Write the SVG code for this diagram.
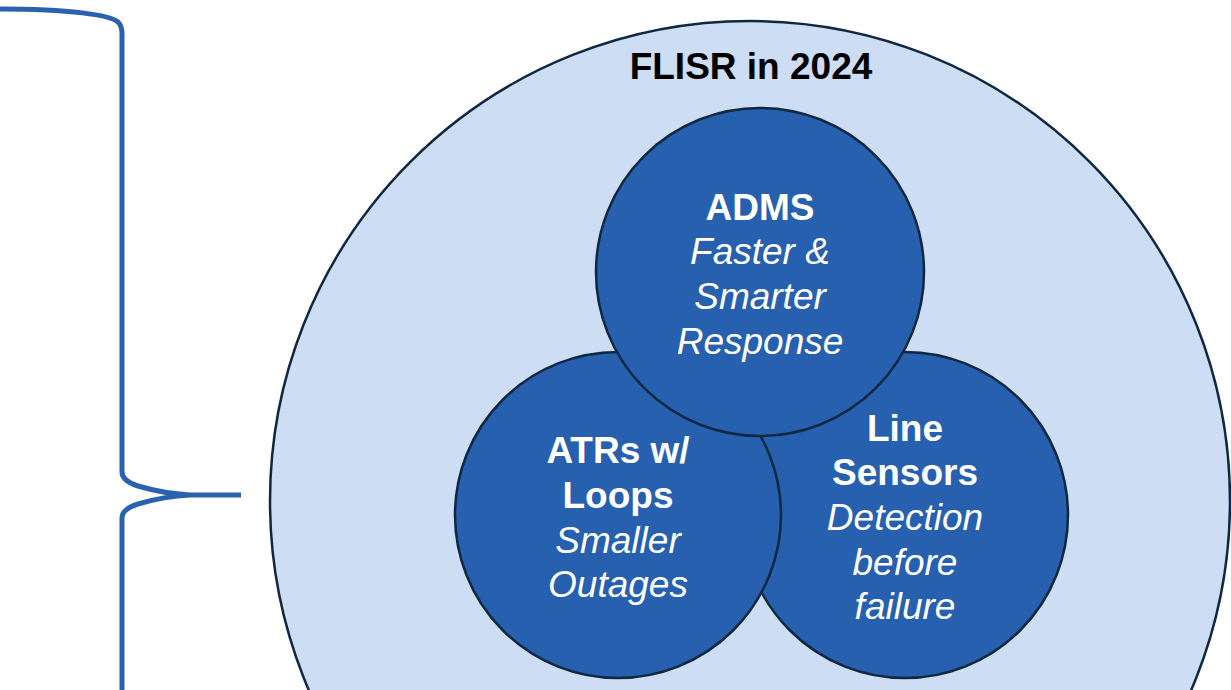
<svg xmlns="http://www.w3.org/2000/svg" width="1231" height="690" viewBox="0 0 1231 690">
<style>
.big{fill:#CDDDF3;stroke:#0E2841;stroke-width:2.5}
.node{fill:#2660AE;stroke:#0E2841;stroke-width:2.5}
.t{font-family:"Liberation Sans",Arial,sans-serif;font-size:37px;text-anchor:middle}
.b{font-weight:bold;fill:#ffffff}
.i{font-style:italic;fill:#ffffff}
.title{font-weight:bold;fill:#000000}
.brace{fill:none;stroke:#2A62B0;stroke-width:5;stroke-linecap:butt;stroke-linejoin:round}
</style>
<g id="connectors">
<path class="brace" d="M 0 9 C 70 9, 110 15, 118 22 Q 122 26 122 34 V 472 Q 122 481 138 486 C 155 491, 170 494, 190 495 L 241 495 M 190 495 C 170 496, 155 499, 138 504 Q 122 509 122 518 V 690"/>
</g>
<g id="flisr">
<circle class="big" cx="750" cy="501" r="480"/>
<text class="t title" x="751" y="79">FLISR in 2024</text>
</g>
<g id="line-sensors">
<circle class="node" cx="905" cy="515" r="163"/>
<text class="t b" x="905" y="441">Line</text>
<text class="t b" x="905" y="485">Sensors</text>
<text class="t i" x="905" y="530">Detection</text>
<text class="t i" x="905" y="575">before</text>
<text class="t i" x="905" y="619">failure</text>
</g>
<g id="atrs">
<circle class="node" cx="618" cy="515" r="163"/>
<text class="t b" x="618" y="463">ATRs w/</text>
<text class="t b" x="618" y="508">Loops</text>
<text class="t i" x="618" y="553">Smaller</text>
<text class="t i" x="618" y="597">Outages</text>
</g>
<g id="adms">
<circle class="node" cx="760" cy="272" r="164"/>
<text class="t b" x="760" y="220">ADMS</text>
<text class="t i" x="760" y="264">Faster &amp;</text>
<text class="t i" x="760" y="309">Smarter</text>
<text class="t i" x="760" y="354">Response</text>
</g>
</svg>
